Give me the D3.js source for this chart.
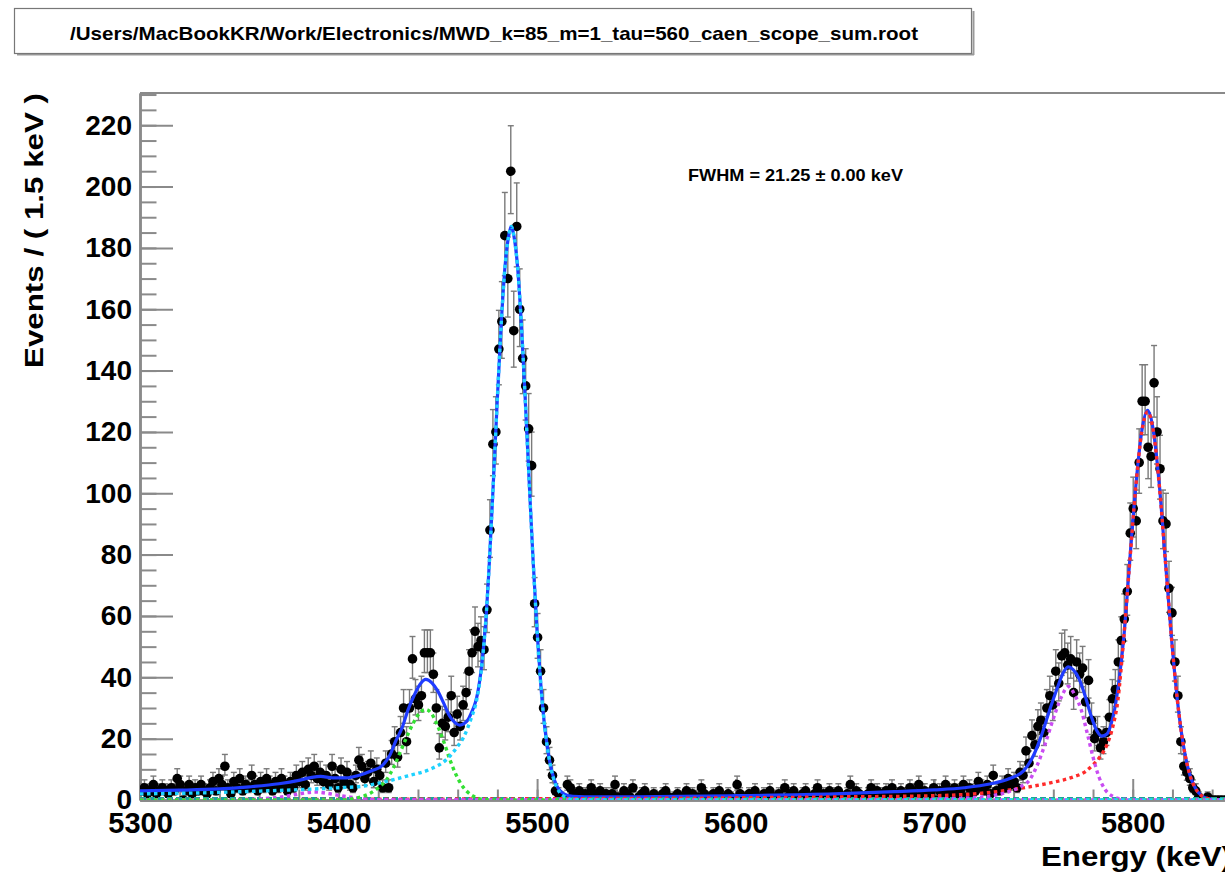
<!DOCTYPE html>
<html lang="en">
<head>
<meta charset="UTF-8">
<title>MWD_k=85_m=1_tau=560_caen_scope_sum</title>
<script src="https://cdn.jsdelivr.net/npm/d3@7"></script>
<style>
  body { margin: 0; background: #fff; }
  svg text { font-family: "Liberation Sans", Arial, Helvetica, sans-serif; font-weight: bold; }
</style>
</head>
<body>
<script>
// histogram: 1.5 keV bins starting at 5300 keV
var binLo = 5300, binW = 1.5;

// Am-241 region, bins 0..142
var countsAm = [
  3,4,2,3,5,2,3,4,3,2, 4,3,7,5,0,3,5,2,4,3, 5,3,2,4,6,3,7,5,11,4,
  2,6,4,7,3,5,4,8,5,3, 6,4,7,5,3,6,4,7,5,3, 6,4,8,
  6,9,5,10,8,11,7,9,6,8, 5,11,7,4,10,6,9,5,4,8, 13,11,7,9,12,6,10,8,4,12,
  4,15,19,14,22,30,19,30,46,33, 31,34,48,48,48,41,30,17,25,24, 27,34,22,28,24,31,35,42,48,55,
  50,52,49,62,88,116,120,147,156,184, 170,205,153,187,160,144,135,121,109,64, 53,42,30,19,13,8,3,2,1,0
];
// flat part, bins 143..292
var countsMid = [
  5,4,2,1,3,0,2,1,4,2, 1,3,0,2,1,2,5,1,0,3, 2,1,4,0,1,2,3,1,0,2,
  1,0,2,3,1,0,1,2,0,1, 3,1,2,0,1,4,2,1,0,2, 1,3,0,1,2,1,0,5,2,1,
  0,2,1,3,1,0,2,1,3,0, 1,2,0,4,1,2,3,0,1,2, 3,1,0,2,4,1,2,0,3,1,
  2,3,1,0,2,5,1,3,2,0, 1,2,4,1,3,0,2,3,1,4, 2,0,3,1,2,4,3,1,5,2,
  3,1,2,4,0,3,2,5,3,1, 4,2,3,5,1,4,2,3,6,4, 3,5,2,8,3,3,5,4,7,5
];
// Cm-244 region, bins 293..365
var countsCm = [
  6,4,9,8,16,12,21,18,24,26, 22,30,34,31,42,38,47,48,44,46, 35,45,41,43,32,39,26,20,22,17,
  19,22,27,33,36,45,52,59,68,87, 95,91,110,130,130,115,112,136,120,108, 91,90,69,61,45,34,19,11,9,7,
  4,3,1,0,0,1,0,0,0,0, 0,0,0
];

// fit curves [energy keV, events]
var fitTotal = [[5300,3.0],[5320,3.2],[5340,3.6],[5355,4.3],[5370,5.3],[5380,6.4],[5386,7.3],[5391,7.7],[5397,7.2],[5404,7.2],
  [5410,8.0],[5417,9.6],[5422,11.2],[5426,14.8],[5429,19.5],[5432,23.5],[5435,29.4],[5438,34],[5441,37.7],[5444,39.3],
  [5447,38.2],[5450,35.5],[5453,31.5],[5456,27.3],[5459,25],[5461,24.4],[5463,24.8],[5465,26],[5467,28.6],[5469,32],
  [5470,34.7],[5472,43.5],[5474,57],[5476,78],[5478,104],[5480,131],[5482,156],[5484,175],[5486,185],[5487,187],
  [5488,185],[5490,175],[5492,156],[5494,131],[5496,104],[5498,78],[5500,55],[5502,36.5],[5504,23],[5506,13.9],
  [5508,8],[5510,4.5],[5513,2.2],[5518,1.2],[5530,1.0],[5560,1.1],[5600,1.4],[5650,2.0],[5680,2.7],[5700,3.3],
  [5715,4.0],[5728,5.2],[5738,7.0],[5745,9.5],[5750,14.5],[5754,21],[5758,29],[5762,36.5],[5765,41.5],[5767.5,43.4],
  [5770,42.5],[5773,39.5],[5776,34],[5779,27.5],[5782,22.5],[5784.5,20.8],[5787,21.5],[5789,24.5],[5791,30],[5793,38.5],
  [5795.5,53],[5798.5,78],[5801.5,102],[5804.5,120],[5807.5,127],[5810.5,120],[5813.5,102],[5816.5,77.6],[5819.5,53],[5822.5,32.5],
  [5825.5,17.9],[5828.5,8.8],[5831.5,3.9],[5834.5,1.5],[5838,0.5],[5845,0.1],[5850,0]];

var fitAm5486 = [[5300,2.0],[5330,2.3],[5360,2.9],[5385,3.5],[5400,4.0],[5412,4.5],[5425,6.2],[5435,7.9],[5446,10],[5454,13],
  [5460,17.5],[5463,20.5],[5467,27],[5469,31],[5470,34],[5472,43],[5474,57],[5476,78],[5478,104],[5480,131],
  [5482,156],[5484,175],[5486,185],[5487,187],[5488,185],[5490,175],[5492,156],[5494,131],[5496,104],[5498,78],
  [5500,55],[5502,36.5],[5504,23],[5506,13.7],[5508,7.6],[5510,4],[5513,1.4],[5518,0.2],[5530,0],[5850,0]];

var fitAm5443 = [[5300,0],[5400,0],[5410,0.8],[5416,2.2],[5420,4],[5424,6.5],[5428,11],[5431,15.5],[5435,21.5],[5438,25.5],
  [5441,28.5],[5444,29.5],[5447,28],[5450,24],[5453,19],[5456,13.3],[5459,8.5],[5462,4.9],[5465,2.6],[5468,1.2],
  [5472,0.3],[5480,0],[5850,0]];

var fitAm5388 = [[5300,0],[5350,0.1],[5362,0.4],[5370,0.9],[5376,1.5],[5382,2.2],[5388,2.6],[5394,2.2],[5400,1.5],[5406,0.9],
  [5414,0.3],[5425,0],[5850,0]];

var fitCm5763 = [[5300,0],[5690,0],[5700,0.3],[5720,0.8],[5730,1.5],[5738,2.8],[5744,4.5],[5748,6.5],[5752,11.5],[5756,18.5],
  [5760,26.5],[5764,33.5],[5767.5,37],[5771,34],[5774,29.5],[5777,22],[5780,14],[5783,7.5],[5786,3.5],[5790,1.2],
  [5795,0.3],[5805,0],[5850,0]];

var fitCm5805 = [[5300,0.1],[5400,0.2],[5500,0.4],[5600,0.7],[5650,1.0],[5700,1.4],[5720,2.0],[5735,3.0],[5748,4.3],[5760,5.8],
  [5770,7.5],[5776,9.2],[5780,11.5],[5784,14.5],[5787,18],[5790,24],[5792.5,32.5],[5795.5,53],[5798.5,77.6],[5801.5,101.8],
  [5804.5,119.8],[5807.5,126.5],[5810.5,119.8],[5813.5,101.8],[5816.5,77.6],[5819.5,53],[5822.5,32.5],[5825.5,17.9],[5828.5,8.8],[5831.5,3.9],
  [5834.5,1.5],[5838,0.4],[5845,0],[5850,0]];

var fitBkg = [[5300,0.4],[5850,0.4]];

var xTicks = [5300, 5400, 5500, 5600, 5700, 5800];
var yTicks = [0, 20, 40, 60, 80, 100, 120, 140, 160, 180, 200, 220];

var titleText = "/Users/MacBookKR/Work/Electronics/MWD_k=85_m=1_tau=560_caen_scope_sum.root";
var fwhmText = "FWHM = 21.25 \u00b1 0.00 keV";

var W = 1225, H = 872;
var fr = { left: 140, right: 1232, top: 93, bottom: 800 };

var svg = d3.select("body").append("svg")
    .attr("width", W).attr("height", H);

var x = d3.scaleLinear().domain([5300, 5850]).range([fr.left, fr.right]);
var y = d3.scaleLinear().domain([0, 230.5]).range([fr.bottom, fr.top]);

// title box
svg.append("line").attr("x1", 17).attr("y1", 54.5).attr("x2", 974).attr("y2", 54.5)
    .attr("stroke", "#9a9a9a").attr("stroke-width", 2);
svg.append("line").attr("x1", 973.5).attr("y1", 11).attr("x2", 973.5).attr("y2", 55)
    .attr("stroke", "#9a9a9a").attr("stroke-width", 2);
svg.append("rect").attr("x", 14.5).attr("y", 8.5).attr("width", 957).attr("height", 45)
    .attr("fill", "#fff").attr("stroke", "#777").attr("stroke-width", 1.2);
svg.append("text").attr("x", 494).attr("y", 40).attr("text-anchor", "middle")
    .attr("font-size", 19).attr("textLength", 848).attr("lengthAdjust", "spacingAndGlyphs")
    .text(titleText);

// frame
svg.append("line").attr("x1", fr.left).attr("x2", fr.right).attr("y1", fr.top).attr("y2", fr.top)
    .attr("stroke", "#8a8a8a").attr("stroke-width", 2);
svg.append("line").attr("x1", fr.right).attr("x2", fr.right).attr("y1", fr.top).attr("y2", fr.bottom)
    .attr("stroke", "#8a8a8a").attr("stroke-width", 2);

// axes
var xMinor = d3.range(5300, 5851, 20);
var yMinor = d3.range(0, 231, 5);

var gxm = svg.append("g").attr("transform", "translate(0," + fr.bottom + ")")
    .call(d3.axisBottom(x).tickValues(xMinor).tickSize(-10.5).tickSizeOuter(0).tickFormat(""));
var gx = svg.append("g").attr("transform", "translate(0," + fr.bottom + ")")
    .call(d3.axisBottom(x).tickValues(xTicks).tickSize(-21).tickSizeOuter(0).tickPadding(12).tickFormat(d3.format("d")));
var gym = svg.append("g").attr("transform", "translate(" + fr.left + ",0)")
    .call(d3.axisLeft(y).tickValues(yMinor).tickSize(-16.5).tickSizeOuter(0).tickFormat(""));
var gy = svg.append("g").attr("transform", "translate(" + fr.left + ",0)")
    .call(d3.axisLeft(y).tickValues(yTicks).tickSize(-33).tickSizeOuter(0).tickPadding(8).tickFormat(d3.format("d")));

[gxm, gx, gym, gy].forEach(function(g) {
    g.selectAll("line").attr("stroke", "#8a8a8a").attr("stroke-width", 2);
    g.select(".domain").attr("stroke", "#8a8a8a").attr("stroke-width", 2.5);
    g.selectAll("text").attr("fill", "#000");
});
gx.selectAll("text").attr("font-size", 29);
gy.selectAll("text").attr("font-size", 28);

svg.append("text")
    .attr("transform", "translate(43," + fr.top + ") rotate(-90)")
    .attr("text-anchor", "end").attr("font-size", 26)
    .attr("textLength", 275).attr("lengthAdjust", "spacingAndGlyphs")
    .text("Events / ( 1.5 keV )");

svg.append("text").attr("x", fr.right).attr("y", 866).attr("text-anchor", "end")
    .attr("font-size", 28).attr("textLength", 191).attr("lengthAdjust", "spacingAndGlyphs")
    .text("Energy (keV)");

svg.append("text").attr("x", 688).attr("y", 181).attr("font-size", 17)
    .attr("textLength", 215).attr("lengthAdjust", "spacingAndGlyphs")
    .text(fwhmText);

// data bins
var bins = [];
function addSeg(arr, i0) {
    arr.forEach(function(n, k) {
        bins.push({ e: binLo + binW * (i0 + k + 0.5), n: n });
    });
}
addSeg(countsAm, 0);
addSeg(countsMid, countsAm.length);
addSeg(countsCm, countsAm.length + countsMid.length);

bins.forEach(function(d) {
    var s = Math.sqrt(d.n + 0.25);
    d.up = d.n + 0.5 + s;
    d.lo = d.n > 0 ? d.n + 0.5 - s : 0;
});

svg.append("clipPath").attr("id", "plotclip").append("rect")
    .attr("x", fr.left).attr("y", fr.top).attr("width", fr.right - fr.left).attr("height", fr.bottom - fr.top);

var plot = svg.append("g").attr("clip-path", "url(#plotclip)");

var eb = plot.append("g").attr("stroke", "#7a7a7a").attr("stroke-width", 1.4);
eb.selectAll("line.bar").data(bins).enter().append("line").attr("class", "bar")
    .attr("x1", function(d) { return x(d.e); }).attr("x2", function(d) { return x(d.e); })
    .attr("y1", function(d) { return y(d.lo); }).attr("y2", function(d) { return y(d.up); });
eb.selectAll("line.capt").data(bins).enter().append("line").attr("class", "capt")
    .attr("x1", function(d) { return x(d.e) - 3; }).attr("x2", function(d) { return x(d.e) + 3; })
    .attr("y1", function(d) { return y(d.up); }).attr("y2", function(d) { return y(d.up); });
eb.selectAll("line.capb").data(bins.filter(function(d) { return d.n > 0; })).enter().append("line").attr("class", "capb")
    .attr("x1", function(d) { return x(d.e) - 3; }).attr("x2", function(d) { return x(d.e) + 3; })
    .attr("y1", function(d) { return y(d.lo); }).attr("y2", function(d) { return y(d.lo); });

plot.append("g").selectAll("circle").data(bins).enter().append("circle")
    .attr("cx", function(d) { return x(d.e); })
    .attr("cy", function(d) { return y(d.n); })
    .attr("r", 4.8).attr("fill", "#000");

// fit curves
var line = d3.line()
    .x(function(d) { return x(d[0]); })
    .y(function(d) { return y(d[1]); })
    .curve(d3.curveMonotoneX);

plot.append("path").datum(fitTotal).attr("d", line)
    .attr("fill", "none").attr("stroke", "#1f3cff").attr("stroke-width", 3.2);

var comps = [
    { d: fitBkg, c: "#1aa39a", dash: "6,3" },
    { d: fitCm5805, c: "#ff2a2a", dash: "3.5,3.5" },
    { d: fitCm5763, c: "#c94cf2", dash: "3.5,3.5" },
    { d: fitAm5388, c: "#c94cf2", dash: "3.5,3.5" },
    { d: fitAm5443, c: "#33e033", dash: "3.5,3.5" },
    { d: fitAm5486, c: "#1ed2ff", dash: "3.5,3.5" }
];
comps.forEach(function(k) {
    plot.append("path").datum(k.d).attr("d", line)
        .attr("fill", "none").attr("stroke", k.c).attr("stroke-width", 3.4)
        .attr("stroke-dasharray", k.dash);
});
</script>
</body>
</html>
